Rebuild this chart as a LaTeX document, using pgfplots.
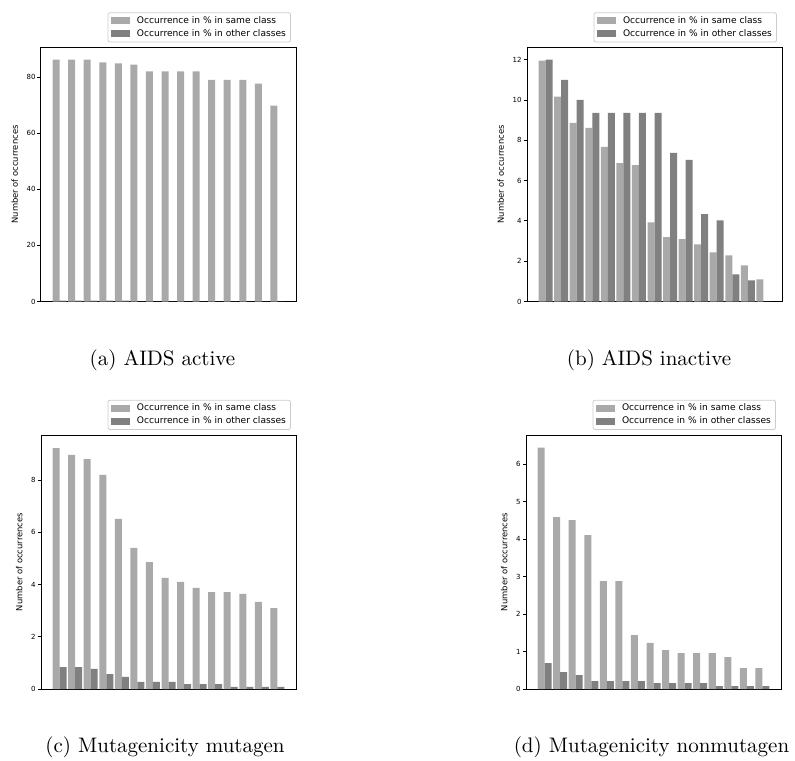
\documentclass[border=0pt]{standalone}
\usepackage{fontspec}
\usepackage{pgfplots}
\usepackage{pgfplotstable}
\pgfplotsset{compat=1.18}
\newfontfamily\dv{DejaVu Sans}
\definecolor{samec}{RGB}{169,169,169}
\definecolor{otherc}{RGB}{128,128,128}
\definecolor{legframe}{RGB}{204,204,204}

\pgfplotstableread{
x same other
0 86.2 0.3
1 86.2 0.3
2 86.2 0.3
3 85.2 0.3
4 84.8 0.3
5 84.4 0
6 82.0 0
7 82.0 0
8 82.0 0
9 82.0 0
10 79.0 0
11 79.0 0
12 79.0 0
13 77.6 0
14 69.8 0
}\tabA
\pgfplotstableread{
x same other
0 11.95 12.0
1 10.16 11.0
2 8.86 10.0
3 8.61 9.36
4 7.67 9.36
5 6.87 9.36
6 6.77 9.36
7 3.93 9.36
8 3.19 7.37
9 3.09 7.02
10 2.84 4.33
11 2.44 4.03
12 2.29 1.34
13 1.79 1.05
14 1.10 0.0
}\tabB
\pgfplotstableread{
x same other
0 9.22 0.84
1 8.96 0.84
2 8.80 0.77
3 8.19 0.57
4 6.51 0.46
5 5.40 0.27
6 4.86 0.27
7 4.25 0.27
8 4.10 0.19
9 3.87 0.19
10 3.71 0.19
11 3.71 0.08
12 3.64 0.08
13 3.33 0.08
14 3.10 0.08
}\tabC
\pgfplotstableread{
x same other
0 6.44 0.69
1 4.59 0.45
2 4.51 0.37
3 4.11 0.21
4 2.88 0.21
5 2.88 0.21
6 1.44 0.21
7 1.23 0.16
8 1.04 0.16
9 0.96 0.16
10 0.96 0.16
11 0.96 0.08
12 0.85 0.08
13 0.56 0.08
14 0.56 0.08
}\tabD

\pgfplotsset{
 mpl/.style={
  scale only axis, width=127.5pt, height=127pt,
  anchor=south west,
  ybar, bar width=0.45,
  xmin=-0.97, xmax=15.42, ymin=0,
  xtick=\empty,
  ytick pos=left, tick align=outside, major tick length=1.75pt,
  tick style={black, line width=0.4pt},
  axis line style={line width=0.5pt},
  yticklabel style={font=\dv\fontsize{3.5}{4}\selectfont, inner sep=0.8pt},
  /pgf/number format/assume math mode=true,
  ylabel={Number of occurrences},
  ylabel style={font=\dv\fontsize{4.2}{5}\selectfont},
  legend cell align=left,
  legend image code/.code={\fill[##1,sharp corners] (0pt,-1.75pt) rectangle (9.5pt,1.75pt); \path (12.2pt,0pt);},
  legend style={at={(0.98,1.02)}, anchor=south east,
    font=\dv\fontsize{4.55}{5.5}\selectfont,
    draw=legframe, line width=0.4pt, rounded corners=1pt, fill=white,
    inner xsep=1.5pt, inner ysep=1pt,
    nodes={inner sep=0.8pt, text depth=1.15pt, text height=3.4pt},
    row sep=0.35pt},
 },
}

\begin{document}
\begin{tikzpicture}
\path[use as bounding box] (0,0) rectangle (397.5pt,-380pt);

\begin{axis}[mpl, at={(20.5pt,-150.75pt)}, ymax=90.5, ytick={0,20,40,60,80}]
\addplot[fill=samec, draw=none, bar shift=0] table[x=x,y=same] {\tabA};
\addplot[fill=otherc, draw=none, bar shift=0.45] table[x=x,y=other] {\tabA};
\legend{Occurrence in \% in same class, Occurrence in \% in other classes}
\end{axis}

\begin{axis}[mpl, at={(263.5pt,-150.75pt)}, ymax=12.6, ytick={0,2,4,6,8,10,12}]
\addplot[fill=samec, draw=none, bar shift=0] table[x=x,y=same] {\tabB};
\addplot[fill=otherc, draw=none, bar shift=0.45] table[x=x,y=other] {\tabB};
\legend{Occurrence in \% in same class, Occurrence in \% in other classes}
\end{axis}

\begin{axis}[mpl, at={(20.5pt,-344.5pt)}, ymax=9.72, ytick={0,2,4,6,8}]
\addplot[fill=samec, draw=none, bar shift=0] table[x=x,y=same] {\tabC};
\addplot[fill=otherc, draw=none, bar shift=0.45] table[x=x,y=other] {\tabC};
\legend{Occurrence in \% in same class, Occurrence in \% in other classes}
\end{axis}

\begin{axis}[mpl, at={(263pt,-344.5pt)}, ymax=6.78, ytick={0,1,2,3,4,5,6}]
\addplot[fill=samec, draw=none, bar shift=0] table[x=x,y=same] {\tabD};
\addplot[fill=otherc, draw=none, bar shift=0.45] table[x=x,y=other] {\tabD};
\legend{Occurrence in \% in same class, Occurrence in \% in other classes}
\end{axis}

\node[anchor=base, font=\fontsize{10.5}{12}\selectfont] at (81.25pt,-182.5pt) {(a) AIDS active};
\node[anchor=base, font=\fontsize{10.5}{12}\selectfont] at (324.5pt,-182.5pt) {(b) AIDS inactive};
\node[anchor=base, font=\fontsize{10.5}{12}\selectfont] at (82.5pt,-376pt) {(c) Mutagenicity mutagen};
\node[anchor=base, font=\fontsize{10.5}{12}\selectfont] at (325.75pt,-376pt) {(d) Mutagenicity nonmutagen};
\end{tikzpicture}
\end{document}
